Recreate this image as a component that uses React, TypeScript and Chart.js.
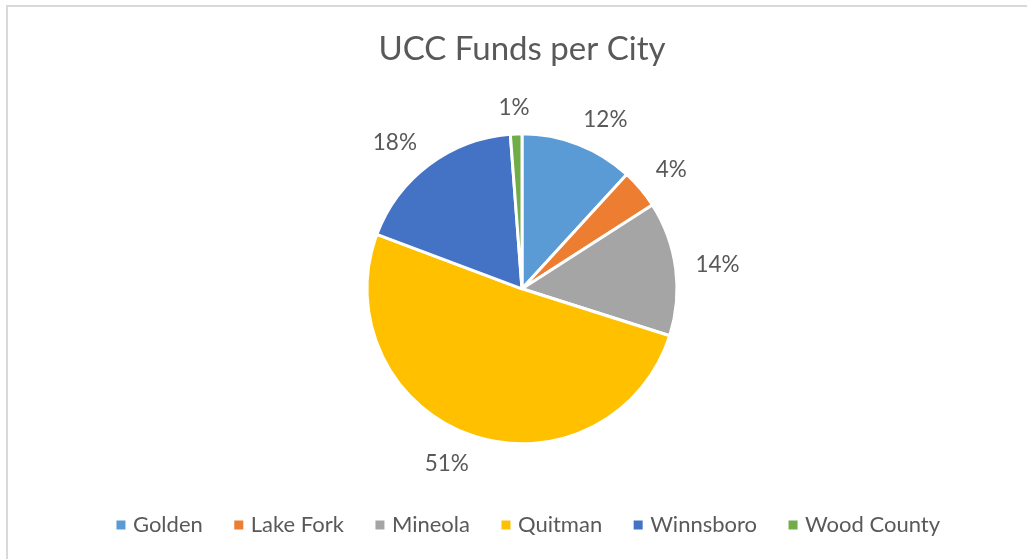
import React, { useEffect, useRef } from 'react';
import { Chart, registerables } from 'chart.js';

Chart.register(...registerables);

const chartTitle = 'UCC Funds per City';
const categories = ['Golden', 'Lake Fork', 'Mineola', 'Quitman', 'Winnsboro', 'Wood County'];
const shares = [11.8, 4.1, 14.0, 50.8, 18.1, 1.2];
const colors = ['#5B9BD5', '#ED7D31', '#A5A5A5', '#FFC000', '#4472C4', '#70AD47'];

const FONT = 'Lato, "Open Sans", sans-serif';
const TEXT = '#595959';

const outsideLabels = {
  id: 'outsideLabels',
  afterDatasetsDraw(chart: any) {
    const ctx = chart.ctx as CanvasRenderingContext2D;
    const meta = chart.getDatasetMeta(0);
    const data = chart.data.datasets[0].data as number[];
    const total = data.reduce((a, b) => a + b, 0);
    ctx.save();
    ctx.font = `22.5px ${FONT}`;
    ctx.fillStyle = TEXT;
    ctx.textAlign = 'center';
    ctx.textBaseline = 'middle';
    meta.data.forEach((arc: any, i: number) => {
      const { x, y, startAngle, endAngle, outerRadius } = arc.getProps(
        ['x', 'y', 'startAngle', 'endAngle', 'outerRadius'],
        true
      );
      const mid = (startAngle + endAngle) / 2;
      const dx = Math.cos(mid);
      const dy = Math.sin(mid);
      const text = Math.round((data[i] / total) * 100) + '%';
      const w = ctx.measureText(text).width;
      const h = 16;
      const gap = 20;
      const px = x + (outerRadius + gap) * dx;
      const py = y + (outerRadius + gap) * dy;
      const k = 2.5;
      const fx = Math.max(-1, Math.min(1, dx * k));
      const fy = Math.max(-1, Math.min(1, dy * k));
      ctx.fillText(text, px + (fx * w) / 2, py + (fy * h) / 2 + 2);
    });
    ctx.restore();
  },
};

const legendShift = {
  id: 'legendShift',
  afterLayout(chart: any) {
    if (chart.legend) {
      chart.legend.left += 8;
      chart.legend.right += 8;
    }
  },
};

export default function App() {
  const ref = useRef<HTMLCanvasElement>(null);

  useEffect(() => {
    Chart.defaults.font.family = FONT;
    const baseGen = (Chart.overrides as any).doughnut.plugins.legend.labels.generateLabels;
    const chart = new Chart(ref.current as HTMLCanvasElement, {
      type: 'pie',
      data: {
        labels: categories,
        datasets: [
          {
            data: shares,
            backgroundColor: colors,
            borderColor: '#ffffff',
            borderWidth: 3,
            radius: 155,
          } as any,
        ],
      },
      options: {
        responsive: false,
        maintainAspectRatio: false,
        animation: false,
        devicePixelRatio: 1,
        events: [],
        layout: { padding: { left: 17, right: 0, top: 0, bottom: 54 } },
        plugins: {
          title: {
            display: true,
            text: chartTitle,
            color: TEXT,
            font: { family: FONT, size: 33, weight: 'normal' },
            padding: { top: 30, bottom: 29 },
          },
          legend: {
            display: true,
            position: 'bottom',
            labels: {
              usePointStyle: true,
              pointStyle: 'rect',
              boxWidth: 2,
              boxHeight: 9,
              padding: 35,
              color: TEXT,
              font: { family: FONT, size: 22 },
              generateLabels: (c: any) =>
                baseGen(c).map((it: any) => ({ ...it, lineWidth: 0, strokeStyle: 'rgba(0,0,0,0)' })),
            },
          },
          tooltip: { enabled: false },
        },
      } as any,
      plugins: [outsideLabels, legendShift],
    });
    return () => chart.destroy();
  }, []);

  return (
    <div
      style={{
        position: 'fixed',
        left: 0,
        top: 0,
        width: 1027,
        height: 559,
        overflow: 'hidden',
        background: '#ffffff',
      }}
    >
      <div
        style={{
          position: 'absolute',
          left: 6,
          top: 5,
          width: 1100,
          height: 700,
          border: '2px solid #d9d9d9',
          boxSizing: 'border-box',
        }}
      />
      <canvas
        ref={ref}
        width={1027}
        height={600}
        style={{ position: 'absolute', left: 0, top: 0, width: 1027, height: 600 }}
      />
    </div>
  );
}
